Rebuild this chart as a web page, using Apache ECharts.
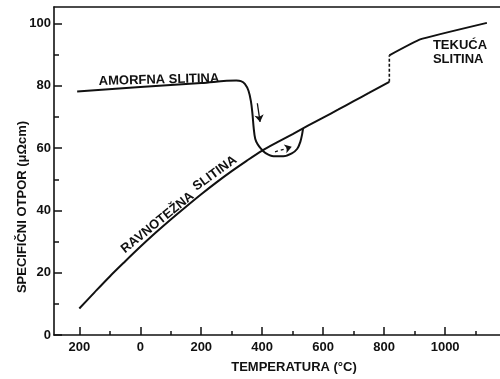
<!DOCTYPE html>
<html><head><meta charset="utf-8">
<script src="https://cdn.jsdelivr.net/npm/echarts@6/dist/echarts.min.js"></script>
<style>html,body{margin:0;padding:0;background:#fff}#c{width:500px;height:379px}</style>
</head><body><div id="c"></div>
<script>
// ---- data (temperature °C, resistivity µΩcm) ----
const eqT = [-200,-150,-100,-50,0,50,100,150,200,250,300,350,400,450,500,550,600,650,700,750,817];
const eqR = [8.5,13.7,18.8,23.6,28.3,32.8,37.1,41.2,45.2,49.0,52.6,56.0,59.2,61.9,64.5,67.2,69.8,72.4,75.1,77.7,81.3];
const jumpT = [817,817];
const jumpR = [81.3,89.8];
const liqT = [817,918,1137];
const liqR = [89.8,94.9,100.2];
const amT = [-207,0,200,315,330,343,355,363,368,372,377,385,395,410,437,469,497,515,525,531,534];
const amR = [78.2,79.6,80.9,81.7,81.5,80.6,78.4,75,71,66.5,63,61.2,59.9,58.5,57.4,57.4,58.3,59.8,62,64.5,66.3];
const arrowDownT = [384,393];
const arrowDownR = [74.4,68.4];
const arrowDashT = [442,497];
const arrowDashR = [58.8,60.4];
const xMajor = [-200,0,200,400,600,800,1000];
const xMinor = [-100,100,300,500,700,900,1100];
const yMajor = [0,20,40,60,80,100];
const yMinor = [10,30,50,70,90];
const X_MIN = -283, X_MAX = 1180, Y_MIN = 0, Y_MAX = 105.3;
const labels = [
  {text:'AMORFNA SLITINA', at:[61.5,81.9], rot:1.5, align:'center'},
  {text:'RAVNOTEŽNA', at:[56.6,36.1], rot:39, align:'center'},
  {text:'SLITINA', at:[245,51.9], rot:36, align:'center'},
  {text:'TEKUĆA', at:[960,93.0], rot:0, align:'left'},
  {text:'SLITINA', at:[960,88.4], rot:0, align:'left'}
];

const zip = (a,b) => a.map((v,i)=>[v,b[i]]);
const INK = '#111';
const FONT = '"Liberation Sans", Arial, sans-serif';
const txt = {color:INK, fontSize:13, fontWeight:'bold', fontFamily:FONT};
const axLine = {show:true, onZero:false, lineStyle:{color:INK, width:1.6}};
const noLine = {show:false, onZero:false};
const tickStyle = {color:INK, width:1.5};
const gridBox = {left:54, right:0, top:7, bottom:44};

const chart = echarts.init(document.getElementById('c'), null, {renderer:'canvas'});
const line = (data, extra) => Object.assign({
  type:'line', xAxisIndex:0, yAxisIndex:0, data, symbol:'none', silent:true,
  lineStyle:{color:INK, width:2}, animation:false
}, extra||{});

chart.setOption({
  backgroundColor:'#fff',
  animation:false,
  grid:[Object.assign({}, gridBox), Object.assign({}, gridBox)],
  xAxis:[
    {gridIndex:0, type:'value', min:X_MIN, max:X_MAX, position:'bottom',
     axisLine:axLine,
     axisTick:{show:true, inside:true, length:8, customValues:xMajor, lineStyle:tickStyle},
     axisLabel:Object.assign({customValues:xMajor, margin:6, formatter:v=>String(Math.abs(v))}, txt),
     splitLine:{show:false}},
    {gridIndex:0, type:'value', min:X_MIN, max:X_MAX, position:'top',
     axisLine:axLine, axisTick:{show:false}, axisLabel:{show:false}, splitLine:{show:false}},
    {gridIndex:1, type:'value', min:X_MIN, max:X_MAX, position:'bottom',
     axisLine:noLine,
     axisTick:{show:true, inside:true, length:4, customValues:xMinor, lineStyle:tickStyle},
     axisLabel:{show:false}, splitLine:{show:false}}
  ],
  yAxis:[
    {gridIndex:0, type:'value', min:Y_MIN, max:Y_MAX, position:'left',
     axisLine:axLine,
     axisTick:{show:true, inside:true, length:8, customValues:yMajor, lineStyle:tickStyle},
     axisLabel:Object.assign({customValues:yMajor, margin:3}, txt),
     splitLine:{show:false}},
    {gridIndex:1, type:'value', min:Y_MIN, max:Y_MAX, position:'left',
     axisLine:noLine,
     axisTick:{show:true, inside:true, length:5, customValues:yMinor, lineStyle:tickStyle},
     axisLabel:{show:false}, splitLine:{show:false}}
  ],
  series:[
    line(zip(eqT,eqR), {smooth:0.3}),
    line(zip(jumpT,jumpR), {lineStyle:{color:INK, width:1.6, type:[3,2]}}),
    line(zip(liqT,liqR), {smooth:0.1}),
    line(zip(amT,amR), {smooth:0.35,
      markLine:{silent:true, animation:false, symbol:['none','arrow'], symbolSize:7,
        label:{show:false}, emphasis:{disabled:true},
        data:[
          [{coord:[arrowDownT[0],arrowDownR[0]], lineStyle:{color:INK,width:1.3,type:'solid'}},{coord:[arrowDownT[1],arrowDownR[1]]}],
          [{coord:[arrowDashT[0],arrowDashR[0]], lineStyle:{color:INK,width:1.3,type:[3,3]}},{coord:[arrowDashT[1],arrowDashR[1]]}]
        ]}})
  ]
});

const g = [];
labels.forEach(l => {
  const p = chart.convertToPixel({gridIndex:0}, l.at);
  g.push({type:'text', x:p[0], y:p[1], rotation:l.rot*Math.PI/180, silent:true,
    style:{text:l.text, fill:INK, font:'bold 13px ' + FONT,
      align:l.align, textAlign:l.align, verticalAlign:'middle', textVerticalAlign:'middle'}});
});
g.push({type:'text', x:294, y:367, silent:true,
  style:{text:'TEMPERATURA (°C)', fill:INK, font:'bold 13px ' + FONT,
    align:'center', textAlign:'center', verticalAlign:'middle', textVerticalAlign:'middle'}});
g.push({type:'text', x:22, y:207, rotation:Math.PI/2, silent:true,
  style:{text:'SPECIFIČNI OTPOR (μΩcm)', fill:INK, font:'bold 13px ' + FONT,
    align:'center', textAlign:'center', verticalAlign:'middle', textVerticalAlign:'middle'}});
chart.setOption({graphic:{elements:g}});
</script></body></html>
